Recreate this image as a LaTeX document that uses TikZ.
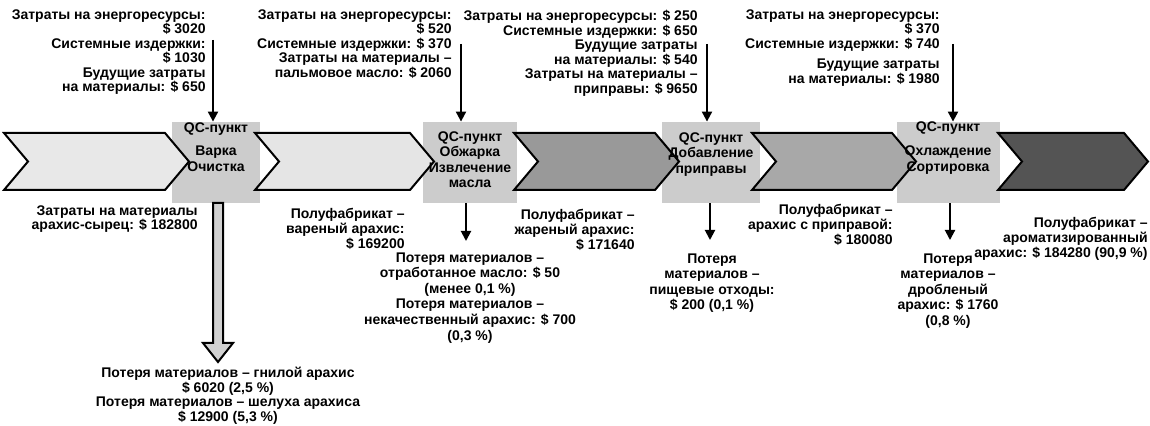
\documentclass[tikz,border=0pt]{standalone}
\usepackage{fontspec}
\setmainfont{Liberation Sans}
\usepackage{tikz}
\usetikzlibrary{arrows.meta}
\usetikzlibrary{positioning}
\definecolor{qcgray}{gray}{0.80}
\definecolor{stepA}{gray}{0.91}
\definecolor{stepB}{gray}{0.90}
\definecolor{stepC}{gray}{0.60}
\definecolor{stepD}{gray}{0.66}
\definecolor{stepE}{gray}{0.33}
\definecolor{lossgray}{gray}{0.82}
\tikzset{->/.style = {-{Triangle[width=5pt,length=5pt]}, line width=1pt}}
\tikzset{qcbox/.style = {fill=qcgray, inner sep=0, minimum height=40.5pt}}
\tikzset{lbl/.style = {font=\fontsize{7}{7.25}\selectfont\bfseries, inner sep=0}}
\tikzset{qclbl/.style = {lbl, align=center, anchor=north, font=\fontsize{7}{7.8}\selectfont\bfseries}}
\tikzset{prod/.style = {lbl, align=right, anchor=north east, font=\fontsize{7}{7.4}\selectfont\bfseries}}
\tikzset{loss/.style = {lbl, align=center, anchor=north, font=\fontsize{7}{7.8}\selectfont\bfseries}}
\tikzset{chev/.style = {draw, line width=1pt, line join=miter}}
\newcommand{\chevron}[3]{%
  \draw[chev, fill=#1] (#2,133) -- (#3,133) -- ++(24,28.5) -- (#3,190) -- (#2,190) -- ++(24,-28.5) -- cycle;}

\begin{document}
\begin{tikzpicture}[x=0.5pt, y=-0.5pt]
  \useasboundingbox (0,0) rectangle (1150,426);
  % QC-пункты
  \node[qcbox, minimum width=44pt] (qc1) at (216,162.5) {};
  \node[qcbox, minimum width=47pt] (qc2) at (470,162.5) {};
  \node[qcbox, minimum width=49pt] (qc3) at (711,162.5) {};
  \node[qcbox, minimum width=51.5pt] (qc4) at (948.5,162.5) {};
  % стадии
  \chevron{stepA}{4}{165}
  \chevron{stepB}{255}{410}
  \chevron{stepC}{514}{655}
  \chevron{stepD}{752}{892}
  \chevron{stepE}{998}{1124}
  \node[qclbl] (st1) at (216,122) {QC-пункт\\[4pt]Варка\\Очистка};
  \node[qclbl] (st2) at (470,131) {QC-пункт\\Обжарка\\Извлечение\\масла};
  \node[qclbl] (st3) at (711,132) {QC-пункт\\Добавление\\приправы};
  \node[qclbl] (st4) at (948,121) {QC-пункт\\[4.5pt]Охлаждение\\Сортировка};
  % затраты
  \node[lbl, align=right, anchor=north east] (top1) at (206,9) {Затраты на энергоресурсы:\\ \$ 3020\\ Системные издержки:\\ \$ 1030\\ Будущие затраты\\ на материалы: \$ 650};
  \node[lbl, align=right, anchor=north east] (top2) at (452,9) {Затраты на энергоресурсы:\\ \$ 520\\ Системные издержки: \$ 370\\ Затраты на материалы –\\ пальмовое масло: \$ 2060};
  \node[lbl, align=right, anchor=north east] (top3) at (698,10) {Затраты на энергоресурсы: \$ 250\\ Системные издержки: \$ 650\\ Будущие затраты\\ на материалы: \$ 540\\ Затраты на материалы –\\ приправы: \$ 9650};
  \node[lbl, align=right, anchor=north east] (top4) at (940,9) {Затраты на энергоресурсы:\\ \$ 370\\ Системные издержки: \$ 740\\[3pt] Будущие затраты\\ на материалы: \$ 1980};
  \coordinate (in1) at (213,40);
  \coordinate (in2) at (461,44);
  \coordinate (in3) at (707,44);
  \coordinate (in4) at (953,44);
  \draw [->] (in1) -- (in1 |- qc1.north);
  \draw [->] (in2) -- (in2 |- qc2.north);
  \draw [->] (in3) -- (in3 |- qc3.north);
  \draw [->] (in4) -- (in4 |- qc4.north);
  % продукты
  \node[prod] (p0) at (198,205) {Затраты на материалы\\ арахис-сырец: \$ 182800};
  \node[prod] (p1) at (405,208) {Полуфабрикат –\\ вареный арахис:\\ \$ 169200};
  \node[prod] (p2) at (635,209) {Полуфабрикат –\\ жареный арахис:\\ \$ 171640};
  \node[prod] (p3) at (893,204) {Полуфабрикат –\\ арахис с приправой:\\ \$ 180080};
  \node[prod] (p4) at (1148,217) {Полуфабрикат –\\ ароматизированный\\ арахис: \$ 184280 (90,9 \%)};
  % потери
  \draw [line width=1pt, fill=lossgray] (213,203) -- (213,343) -- (203,343) -- (218,362) -- (233,343) -- (223,343) -- (223,203) -- cycle;
  \coordinate (out2) at (466,241);
  \coordinate (out3) at (710,240);
  \coordinate (out4) at (950,240);
  \draw [->] (out2 |- qc2.south) -- (out2);
  \draw [->] (out3 |- qc3.south) -- (out3);
  \draw [->] (out4 |- qc4.south) -- (out4);
  \node[lbl, align=center, anchor=north] (loss1) at (228,367) {Потеря материалов – гнилой арахис\\ \$ 6020 (2,5 \%)\\ Потеря материалов – шелуха арахиса\\ \$ 12900 (5,3 \%)};
  \node[loss] (loss2) at (470,252) {Потеря материалов –\\ отработанное масло: \$ 50\\ (менее 0,1 \%)\\ Потеря материалов –\\ некачественный арахис: \$ 700\\ (0,3 \%)};
  \node[loss] (loss3) at (712,253) {Потеря\\ материалов –\\ пищевые отходы:\\ \$ 200 (0,1 \%)};
  \node[loss] (loss4) at (948,253) {Потеря\\ материалов –\\ дробленый\\ арахис: \$ 1760\\ (0,8 \%)};
\end{tikzpicture}
\end{document}
